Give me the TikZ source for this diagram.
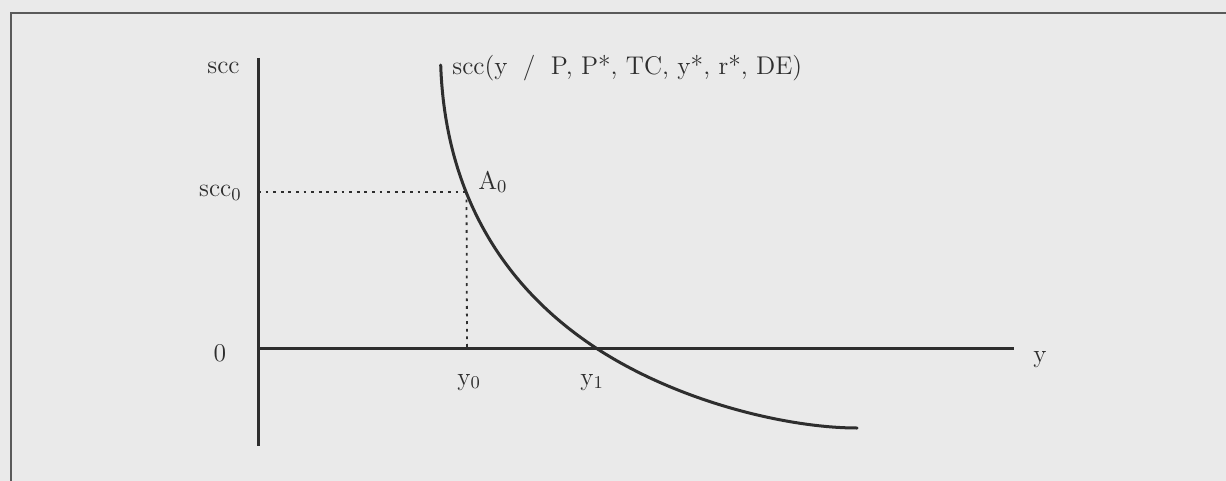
\documentclass[tikz,border=0pt]{standalone}
\usepackage{tikz}
\definecolor{paper}{HTML}{EAEAEA}
\definecolor{ink}{HTML}{2E2E2E}
\definecolor{framec}{HTML}{5A5A5A}
\begin{document}
\begin{tikzpicture}[x=0.5pt,y=-0.5pt,
  lbl/.style={inner sep=0pt,text=ink,font=\fontsize{12.8}{14}\selectfont},
  axis/.style={draw=ink,line width=1.5pt},
  guide/.style={draw=ink,line width=0.9pt,dash pattern=on 1.4pt off 2.4pt},
  curve/.style={draw=ink,line width=1.5pt,line cap=round},
  framel/.style={draw=framec,line width=0.8pt}]
\fill[paper] (0,0) rectangle (1226,481);
\useasboundingbox (0,0) rectangle (1226,481);
% frame (cut off by the page at right and bottom)
\coordinate (fbl) at (11,481);
\coordinate (ftl) at (11,13);
\coordinate (ftr) at (1226,13);
\draw[framel] (fbl) -- (ftl) -- (ftr);
% axes
\coordinate (vtop) at (258,58);
\coordinate (vbot) at (258,446);
\coordinate (o) at (258,348);
\coordinate (hend) at (1014,348);
\draw[axis] (vtop) -- (vbot);
\draw[axis] (o) -- (hend);
% point A0 and guides
\coordinate (a0) at (466.5,192);
\coordinate (s0) at (258,192);
\coordinate (y0p) at (467,348);
\draw[guide] (s0) -- (a0);
\draw[guide] (a0) -- (y0p);
% curve
\coordinate (cstart) at (440.7,65);
\coordinate (y1p) at (596,348);
\coordinate (cend) at (857,428);
\draw[curve] (cstart) .. controls (445,190) and (500,285) .. (y1p)
                      .. controls (680,403) and (790,428) .. (cend);
% labels
\node[lbl,anchor=base east] (lscc) at (240,74) {scc};
\node[lbl,anchor=base east] (lscc0) at (242,197) {scc$_{0}$};
\node[lbl,anchor=base] (lzero) at (220,361) {0};
\node[lbl,anchor=base west] (ly0) at (457,385) {y$_{0}$};
\node[lbl,anchor=base west] (ly1) at (580,385) {y$_{1}$};
\node[lbl,anchor=base west] (ly) at (1033,362) {y};
\node[lbl,anchor=base west] (la0) at (478,189) {A$_{0}$};
\node[lbl,anchor=base west] (lcurve) at (452,75) {scc(y\hspace{0.6em}/\hspace{0.6em}P, P*, TC, y*, r*, DE)};
\end{tikzpicture}
\end{document}
